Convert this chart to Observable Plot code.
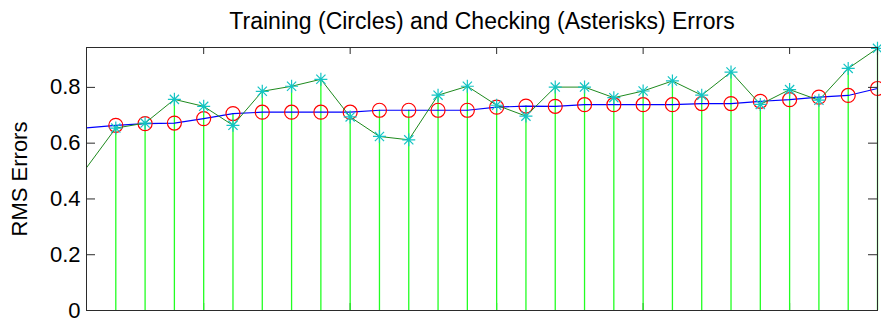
<!DOCTYPE html>
<html><head><meta charset="utf-8">
<script src="https://cdn.jsdelivr.net/npm/d3@7"></script>
<script src="https://cdn.jsdelivr.net/npm/@observablehq/plot@0.6"></script>
<style>
body{margin:0;background:#fff;}
#chart svg{display:block;}
</style></head><body><div id="chart"></div>
<script>
const title = "Training (Circles) and Checking (Asterisks) Errors";
const yLabel = "RMS Errors";
// index 1 lies just at the left edge (line only, no marker); stems/markers at 2..28
const indices = [1,2,3,4,5,6,7,8,9,10,11,12,13,14,15,16,17,18,19,20,21,22,23,24,25,26,27,28];
const trainingErrors = [0.655,0.664,0.670,0.672,0.688,0.706,0.711,0.711,0.711,0.711,0.718,0.718,0.718,0.718,0.729,0.733,0.732,0.738,0.738,0.738,0.738,0.742,0.742,0.750,0.756,0.765,0.771,0.796];
const checkingErrors = [0.512,0.654,0.672,0.757,0.732,0.664,0.786,0.804,0.829,0.694,0.624,0.612,0.772,0.804,0.736,0.697,0.801,0.801,0.763,0.787,0.823,0.772,0.855,0.739,0.792,0.754,0.868,0.940];
const yTicks = [0, 0.2, 0.4, 0.6, 0.8];
const yTickLabels = ["0", "0.2", "0.4", "0.6", "0.8"];
const xTicks = [5, 10, 15, 20, 25];

const W = 881, H = 319;
const mL = 86, mR = 4, mT = 47, mB = 9;
const pw = W - mL - mR, ph = H - mT - mB;

const data = indices.map((i, k) => ({i, trn: trainingErrors[k], chk: checkingErrors[k]}));
const marked = data.slice(1);

const star = {
  draw(ctx, size) {
    const r = Math.sqrt(size / Math.PI), d = r * Math.SQRT1_2;
    ctx.moveTo(-r, 0); ctx.lineTo(r, 0);
    ctx.moveTo(0, -r); ctx.lineTo(0, r);
    ctx.moveTo(-d, -d); ctx.lineTo(d, d);
    ctx.moveTo(-d, d); ctx.lineTo(d, -d);
  }
};

const axisColor = "#2b2b2b";

const chart = Plot.plot({
  width: W, height: H,
  marginLeft: mL, marginRight: mR, marginTop: mT, marginBottom: mB,
  style: {fontFamily: "'Liberation Sans', Arial, sans-serif", fontSize: "22px", color: "#000", background: "#fff", overflow: "visible"},
  x: {domain: [1, 28], axis: null},
  y: {domain: [0, 0.943], axis: null},
  marks: [
    Plot.tickX(xTicks, {x: d => d, insetTop: ph - 7, stroke: axisColor}),
    Plot.ruleX(marked, {x: "i", y1: 0, y2: d => Math.max(d.trn, d.chk), stroke: "#22ff22", strokeWidth: 1.3}),
    Plot.line(data, {x: "i", y: "trn", stroke: "#0000ff", strokeWidth: 1.2}),
    Plot.dot(marked, {x: "i", y: "trn", r: 7, stroke: "#ff0000", fill: "none", strokeWidth: 1.2}),
    Plot.line(data, {x: "i", y: "chk", stroke: "#1e8a1e", strokeWidth: 1}),
    Plot.dot(marked, {x: "i", y: "chk", r: 6.5, symbol: star, stroke: "#14c4c4", fill: "none", strokeWidth: 1.2}),
    Plot.frame({stroke: axisColor}),
    Plot.tickY(yTicks, {y: d => d, insetRight: pw - 9, stroke: axisColor}),
    Plot.tickY(yTicks, {y: d => d, insetLeft: pw - 9, stroke: axisColor}),
    Plot.tickX(xTicks, {x: d => d, insetBottom: ph - 7, stroke: axisColor}),
    Plot.axisY(yTicks, {tickSize: 0, tickPadding: 6, fontSize: 22, label: null, tickFormat: (d, k) => yTickLabels[k]}),
    Plot.text([title], {frameAnchor: "top", dy: -19, lineAnchor: "bottom", textAnchor: "middle", fontSize: 23, fill: "#000"}),
    Plot.text([yLabel], {frameAnchor: "left", dx: -67, rotate: -90, lineAnchor: "middle", textAnchor: "middle", fontSize: 22, fill: "#000"})
  ]
});
document.getElementById("chart").appendChild(chart);
</script></body></html>
